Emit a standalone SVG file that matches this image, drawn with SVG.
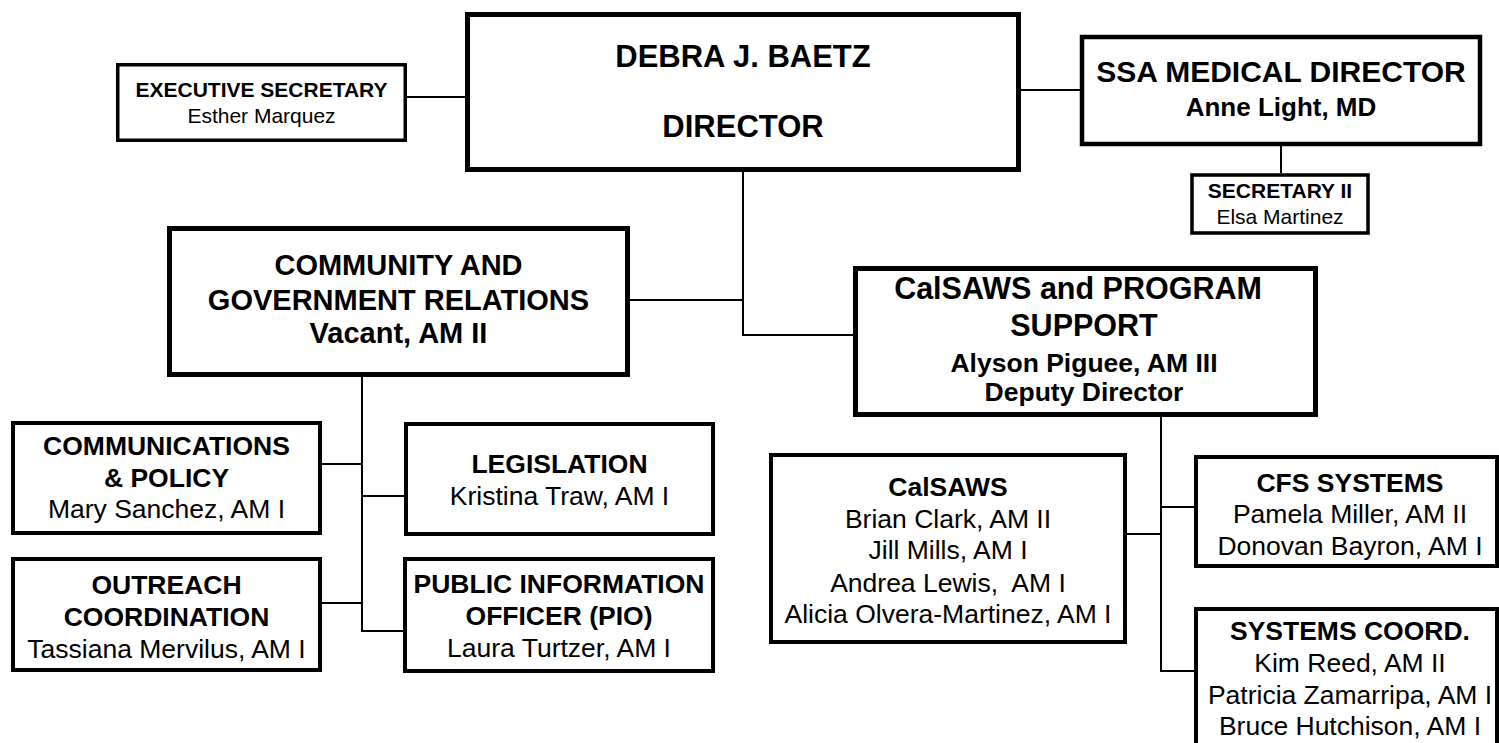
<svg xmlns="http://www.w3.org/2000/svg" width="1499" height="743" viewBox="0 0 1499 743">
<style>
  .box { fill: #fff; stroke: #000; stroke-linejoin: miter; }
  .s35 { stroke-width: 3.5; }
  .s4 { stroke-width: 4; }
  .s45 { stroke-width: 4.5; }
  .s5 { stroke-width: 5; }
  .conn path { fill: none; stroke: #000; stroke-width: 2; }
  text { font-family: "Liberation Sans", Arial, sans-serif; text-anchor: middle; fill: #000; }
  .b { font-weight: bold; }
  .f21 { font-size: 21px; }
  .f26 { font-size: 26.5px; }
  .f29 { font-size: 29px; }
  .f30 { font-size: 30.5px; }
  .f31 { font-size: 31px; }
</style>
<rect width="1499" height="743" fill="#fff"/>
<g id="connectors" class="conn">
  <path d="M407 97 H466"/>
  <path d="M1021 90 H1080"/>
  <path d="M1281 146 V173"/>
  <path d="M743 172 V335 H853"/>
  <path d="M630 300 H743"/>
  <path d="M362 377 V631 H403"/>
  <path d="M322 464 H362"/>
  <path d="M362 496 H404"/>
  <path d="M322 603 H362"/>
  <path d="M1161 417 V671 H1195"/>
  <path d="M1127 534 H1161"/>
  <path d="M1161 507 H1195"/>
</g>
<g id="exec-secretary">
  <rect class="box s35" x="117.75" y="64.75" width="287.5" height="75.5"/>
  <text class="b f21" x="261.5" y="97">EXECUTIVE SECRETARY</text>
  <text class="f21" x="261.5" y="123">Esther Marquez</text>
</g>
<g id="director">
  <rect class="box s5" x="467.5" y="14.5" width="551" height="155"/>
  <text class="b f31" x="743" y="67">DEBRA J. BAETZ</text>
  <text class="b f31" x="743" y="137">DIRECTOR</text>
</g>
<g id="ssa-medical-director">
  <rect class="box s45" x="1082" y="37" width="398" height="107"/>
  <text class="b" style="font-size:30px" x="1281" y="82">SSA MEDICAL DIRECTOR</text>
  <text class="b" style="font-size:26px" x="1281" y="116">Anne Light, MD</text>
</g>
<g id="secretary-ii">
  <rect class="box s35" x="1192" y="175" width="176" height="58"/>
  <text class="b f21" x="1280" y="198">SECRETARY II</text>
  <text class="f21" x="1280" y="224">Elsa Martinez</text>
</g>
<g id="community-government-relations">
  <rect class="box s5" x="169.5" y="228.5" width="458" height="146"/>
  <text class="b f29" x="398.5" y="275">COMMUNITY AND</text>
  <text class="b f29" x="398.5" y="310">GOVERNMENT RELATIONS</text>
  <text class="b f29" x="398.5" y="343">Vacant, AM II</text>
</g>
<g id="calsaws-program-support">
  <rect class="box s5" x="855.5" y="268.5" width="460" height="146"/>
  <text class="b f30" x="1078" y="299">CalSAWS and PROGRAM</text>
  <text class="b f30" x="1084" y="336">SUPPORT</text>
  <text class="b f26" x="1084" y="372">Alyson Piguee, AM III</text>
  <text class="b f26" x="1084" y="401">Deputy Director</text>
</g>
<g id="communications-policy">
  <rect class="box s4" x="13" y="423" width="307" height="110"/>
  <text class="b f26" x="166.5" y="455">COMMUNICATIONS</text>
  <text class="b f26" x="166.5" y="487">&amp; POLICY</text>
  <text class="f26" x="166.5" y="518">Mary Sanchez, AM I</text>
</g>
<g id="legislation">
  <rect class="box s4" x="406" y="424" width="307" height="110"/>
  <text class="b f26" x="559.5" y="473">LEGISLATION</text>
  <text class="f26" x="559.5" y="505">Kristina Traw, AM I</text>
</g>
<g id="outreach-coordination">
  <rect class="box s4" x="13" y="559" width="307" height="111"/>
  <text class="b f26" x="166.5" y="594">OUTREACH</text>
  <text class="b f26" x="166.5" y="626">COORDINATION</text>
  <text class="f26" x="166.5" y="658">Tassiana Mervilus, AM I</text>
</g>
<g id="public-information-officer">
  <rect class="box s4" x="405" y="559" width="308" height="112"/>
  <text class="b f26" x="559" y="593">PUBLIC INFORMATION</text>
  <text class="b f26" x="559" y="625">OFFICER (PIO)</text>
  <text class="f26" x="559" y="657">Laura Turtzer, AM I</text>
</g>
<g id="calsaws">
  <rect class="box s4" x="771" y="455" width="354" height="187"/>
  <text class="b f26" x="948" y="496">CalSAWS</text>
  <text class="f26" x="948" y="528">Brian Clark, AM II</text>
  <text class="f26" x="948" y="559">Jill Mills, AM I</text>
  <text class="f26" x="948" y="592" xml:space="preserve">Andrea Lewis,  AM I</text>
  <text class="f26" x="948" y="623">Alicia Olvera-Martinez, AM I</text>
</g>
<g id="cfs-systems">
  <rect class="box s4" x="1196" y="457" width="301" height="109"/>
  <text class="b f26" x="1350" y="492">CFS SYSTEMS</text>
  <text class="f26" x="1350" y="523">Pamela Miller, AM II</text>
  <text class="f26" x="1350" y="555">Donovan Bayron, AM I</text>
</g>
<g id="systems-coord">
  <rect class="box s4" x="1196" y="609" width="301" height="150"/>
  <text class="b f26" x="1350" y="640">SYSTEMS COORD.</text>
  <text class="f26" x="1350" y="672">Kim Reed, AM II</text>
  <text class="f26" x="1350" y="704">Patricia Zamarripa, AM I</text>
  <text class="f26" x="1350" y="735">Bruce Hutchison, AM I</text>
</g>
</svg>
